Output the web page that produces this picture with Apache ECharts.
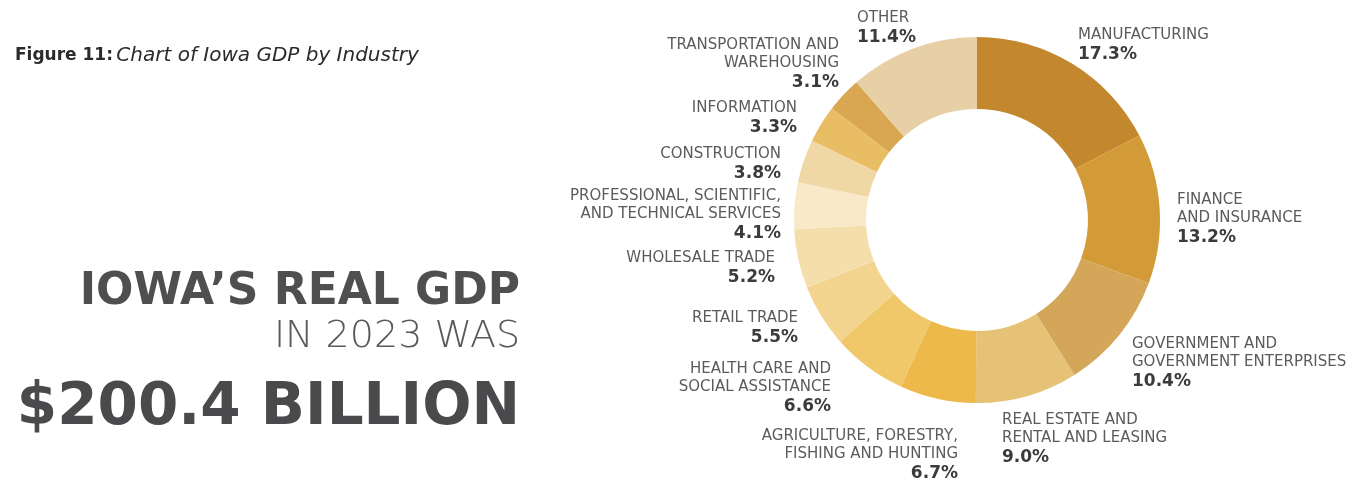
<!DOCTYPE html>
<html>
<head>
<meta charset="utf-8">
<title>Iowa GDP by Industry</title>
<script src="https://cdn.jsdelivr.net/npm/echarts@6/dist/echarts.min.js"></script>
<style>
  html, body { margin: 0; padding: 0; background: #fff; }
  #chart { width: 1366px; height: 482px; }
</style>
</head>
<body>
<div id="chart"></div>
<script>
// 行业名称（顺时针，从12点开始）
const industries = [
  'MANUFACTURING',
  'FINANCE\nAND INSURANCE',
  'GOVERNMENT AND\nGOVERNMENT ENTERPRISES',
  'REAL ESTATE AND\nRENTAL AND LEASING',
  'AGRICULTURE, FORESTRY,\nFISHING AND HUNTING',
  'HEALTH CARE AND\nSOCIAL ASSISTANCE',
  'RETAIL TRADE',
  'WHOLESALE TRADE',
  'PROFESSIONAL, SCIENTIFIC,\nAND TECHNICAL SERVICES',
  'CONSTRUCTION',
  'INFORMATION',
  'TRANSPORTATION AND\nWAREHOUSING',
  'OTHER'
];
// 占比 %
const shares = [17.3, 13.2, 10.4, 9.0, 6.7, 6.6, 5.5, 5.2, 4.1, 3.8, 3.3, 3.1, 11.4];

// 扇区颜色
const colors = [
  '#c3872e', '#d39a38', '#d3a65a', '#e6c276', '#ecb94a', '#f0c869', '#f2d48e',
  '#f4deab', '#f8e9c9', '#f0d8a6', '#e9bd64', '#d9a652', '#e8d0a6'
];

// 标签位置 [x, y, align]
const labelPos = [
  [1078, 26, 'left'], [1177, 191, 'left'], [1132, 335, 'left'], [1002, 411, 'left'],
  [958, 427, 'right'], [831, 360, 'right'], [798, 309, 'right'], [775, 249, 'right'],
  [781, 187, 'right'], [781, 145, 'right'], [797, 99, 'right'], [839, 36, 'right'],
  [857, 9, 'left']
];

const FONT = '"DejaVu Sans", sans-serif';

const chart = echarts.init(document.getElementById('chart'));
chart.setOption({
  animation: false,
  graphic: [
    {
      type: 'text', left: 15, top: 46,
      style: {
        text: '{b|Figure 11:} {i|Chart of Iowa GDP by Industry}',
        rich: {
          b: { fontFamily: FONT, fontWeight: 'bold', fontSize: 17, fill: '#2b2b2b' },
          i: { fontFamily: FONT, fontStyle: 'italic', fontSize: 20, fill: '#2b2b2b' }
        }
      }
    },
    {
      type: 'text', right: 846, top: 271,
      style: { text: 'IOWA’S REAL GDP', fontFamily: FONT, fontWeight: 'bold', fontSize: 44, fill: '#4f4f51', textAlign: 'right' }
    },
    {
      type: 'text', right: 846, top: 318,
      style: { text: 'IN 2023 WAS', fontFamily: FONT, fontWeight: 200, fontSize: 38, fill: '#5a5a5c', textAlign: 'right' }
    },
    {
      type: 'text', right: 846, top: 380,
      style: { text: '$200.4 BILLION', fontFamily: FONT, fontWeight: 'bold', fontSize: 58, fill: '#4a4a4c', textAlign: 'right' }
    }
  ],
  series: [{
    type: 'pie',
    center: [977, 220],
    radius: [111, 183],
    startAngle: 90,
    clockwise: true,
    silent: true,
    data: industries.map((name, i) => ({ name, value: shares[i], itemStyle: { color: colors[i] } })),
    label: {
      show: true,
      overflow: 'none',
      formatter: p => p.name.split('\n').map(s => '{n|' + s + '}').join('\n') + '\n{v|' + p.value.toFixed(1) + '%}',
      rich: {
        n: { fontFamily: FONT, fontSize: 15, color: '#5b5b5d', lineHeight: 18 },
        v: { fontFamily: FONT, fontWeight: 'bold', fontSize: 17, color: '#3b3b3d', lineHeight: 21 }
      }
    },
    labelLine: { show: false },
    labelLayout: p => {
      const lp = labelPos[p.dataIndex];
      return { x: lp[0], y: lp[1], align: lp[2], verticalAlign: 'top' };
    }
  }]
});
</script>
</body>
</html>
